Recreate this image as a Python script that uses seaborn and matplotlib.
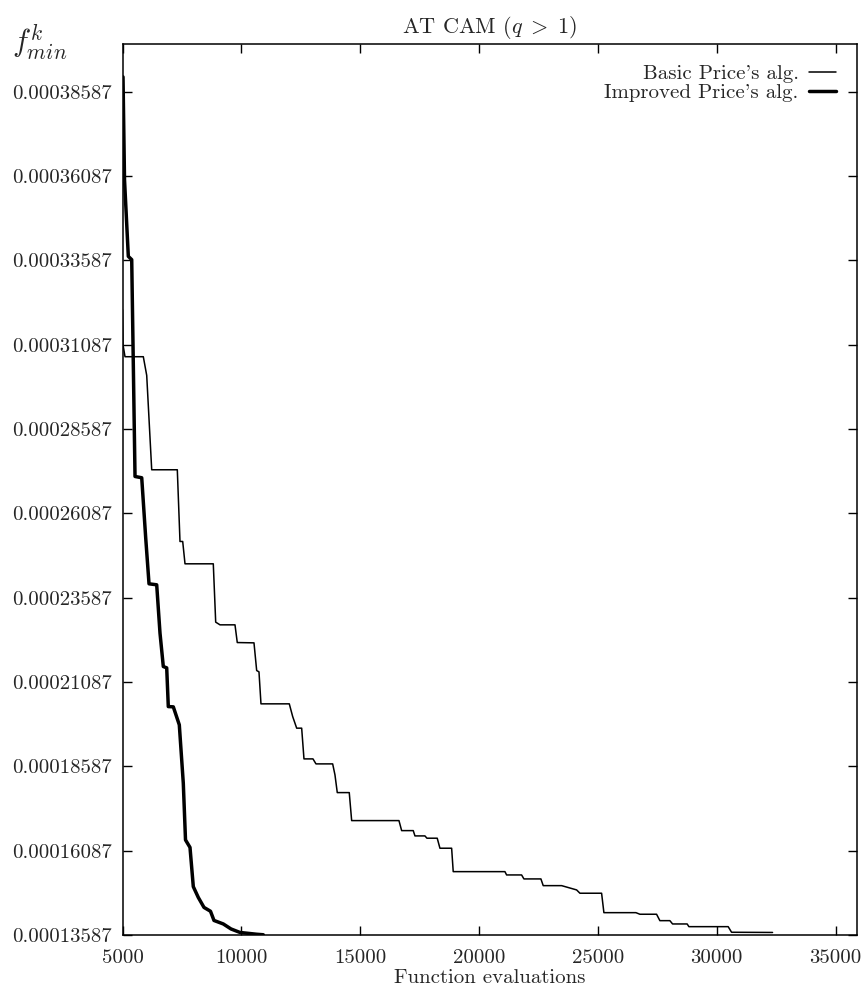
import matplotlib
matplotlib.use("Agg")
import matplotlib.pyplot as plt
import seaborn as sns
import pandas as pd

# basic Price's algorithm (thin line)
basic_evals = [5000, 5020, 5105, 5875, 6018, 6228, 7305, 7418, 7532, 7629, 8819,
               8920, 9101, 9732, 9828, 10531, 10644, 10741, 10825, 12016, 12159,
               12327, 12537, 12634, 13013, 13139, 13841, 13938, 14035, 14539, 14640,
               16630, 16743, 17231, 17303, 17723, 17807, 18240, 18354, 18846, 18913,
               21088, 21159, 21790, 21887, 22602, 22699, 23473, 24104, 24243, 25155,
               25252, 26598, 26766, 27468, 27607, 28028, 28141, 28755, 28827, 30480,
               30623, 32347]
basic_fmin = [3.2122e-4, 3.1084e-4, 3.0728e-4, 3.0728e-4, 3.0174e-4, 2.7377e-4,
              2.7377e-4, 2.5251e-4, 2.5251e-4, 2.4589e-4, 2.4589e-4, 2.2860e-4,
              2.2780e-4, 2.2780e-4, 2.2255e-4, 2.2246e-4, 2.1425e-4, 2.1387e-4,
              2.0438e-4, 2.0438e-4, 2.0061e-4, 1.9717e-4, 1.9717e-4, 1.8806e-4,
              1.8806e-4, 1.8658e-4, 1.8658e-4, 1.8332e-4, 1.7807e-4, 1.7807e-4,
              1.6977e-4, 1.6977e-4, 1.6680e-4, 1.6680e-4, 1.6523e-4, 1.6523e-4,
              1.6455e-4, 1.6455e-4, 1.6158e-4, 1.6158e-4, 1.5464e-4, 1.5464e-4,
              1.5366e-4, 1.5366e-4, 1.5248e-4, 1.5248e-4, 1.5049e-4, 1.5049e-4,
              1.4922e-4, 1.4824e-4, 1.4824e-4, 1.4248e-4, 1.4248e-4, 1.4201e-4,
              1.4201e-4, 1.4011e-4, 1.4011e-4, 1.3913e-4, 1.3913e-4, 1.3833e-4,
              1.3833e-4, 1.3667e-4, 1.3661e-4]

# improved Price's algorithm (thick line)
improved_evals = [5021, 5084, 5244, 5387, 5526, 5808, 5976, 6115, 6438, 6577, 6716,
                  6859, 6926, 7137, 7389, 7557, 7650, 7839, 7978, 8188, 8428, 8701,
                  8848, 9240, 9564, 9942, 10644, 10922]
improved_fmin = [3.9023e-4, 3.5977e-4, 3.3703e-4, 3.3605e-4, 2.7178e-4, 2.7140e-4,
                 2.5352e-4, 2.3996e-4, 2.3967e-4, 2.2534e-4, 2.1544e-4, 2.1505e-4,
                 2.0357e-4, 2.0349e-4, 1.9815e-4, 1.8086e-4, 1.6404e-4, 1.6182e-4,
                 1.5019e-4, 1.4699e-4, 1.4403e-4, 1.4290e-4, 1.4017e-4, 1.3913e-4,
                 1.3765e-4, 1.3661e-4, 1.3608e-4, 1.3593e-4]

x_ticks = [5000, 10000, 15000, 20000, 25000, 30000, 35000]
y_tick_labels = ["0.00013587", "0.00016087", "0.00018587", "0.00021087",
                 "0.00023587", "0.00026087", "0.00028587", "0.00031087",
                 "0.00033587", "0.00036087", "0.00038587"]


def main():
    sns.set_style("ticks")
    plt.rcParams["font.family"] = ["cmr10", "DejaVu Serif"]
    plt.rcParams["mathtext.fontset"] = "cm"
    plt.rcParams["axes.formatter.use_mathtext"] = True

    basic = pd.DataFrame({"evals": basic_evals, "fmin": basic_fmin})
    improved = pd.DataFrame({"evals": improved_evals, "fmin": improved_fmin})

    fig = plt.figure(figsize=(8.64, 9.94), dpi=100)
    ax = fig.add_axes([0.1418, 0.0594, 0.8501, 0.8964])

    sns.lineplot(data=basic, x="evals", y="fmin", sort=False, estimator=None,
                 color="black", linewidth=1.1, label="Basic Price's alg.", ax=ax)
    sns.lineplot(data=improved, x="evals", y="fmin", sort=False, estimator=None,
                 color="black", linewidth=2.5, label="Improved Price's alg.", ax=ax)

    ax.set_xlim(5000, 35900)
    ax.set_ylim(0.00013587, 0.0004)
    ax.set_xticks(x_ticks)
    ax.set_xticklabels([str(t) for t in x_ticks])
    ax.set_yticks([float(t) for t in y_tick_labels])
    ax.set_yticklabels(y_tick_labels)

    ax.tick_params(axis="both", direction="in", length=6.5, width=1,
                   top=True, right=True, labelsize=15, color="black")
    ax.tick_params(axis="x", pad=10)
    ax.tick_params(axis="y", pad=8)
    for sp in ax.spines.values():
        sp.set_visible(True)
        sp.set_linewidth(1.1)
        sp.set_color("black")

    ax.set_xlabel("Function evaluations", fontsize=15, labelpad=2)
    ax.set_ylabel("")
    ax.set_title(r"AT CAM $(q\;>\;1)$", fontsize=16, pad=8)
    fig.text(0.014, 1 - 52 / 994, r"$f^k_{min}$", fontsize=22, va="baseline")

    ax.legend(loc="upper right", frameon=False, markerfirst=False, fontsize=15,
              handlelength=1.3, handletextpad=0.5, labelspacing=0.0,
              borderaxespad=0.6)

    fig.savefig("out.png", dpi=100)


if __name__ == "__main__":
    main()
